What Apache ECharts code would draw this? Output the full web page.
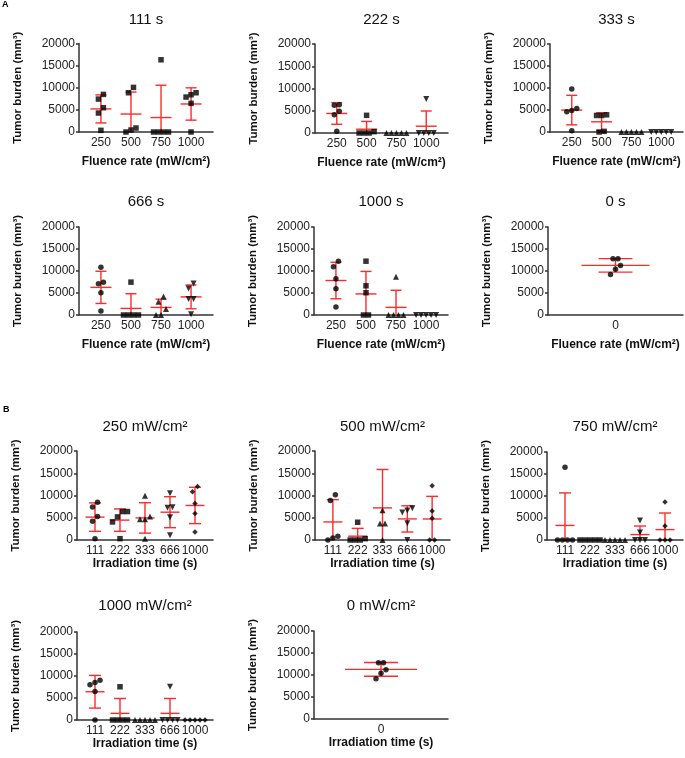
<!DOCTYPE html>
<html>
<head>
<meta charset="utf-8">
<title>Tumor burden</title>
<script src="https://cdn.jsdelivr.net/npm/echarts@6/dist/echarts.min.js"></script>
<style>
  html, body { margin: 0; padding: 0; background: #fff; }
  #chart { width: 685px; height: 758px; }
</style>
</head>
<body>
<div id="chart"></div>
<script>
// categories
const fluenceRates = ['250', '500', '750', '1000'];
const irradiationTimes = ['111', '222', '333', '666', '1000'];
const controlCat = ['0'];

// A: tumor burden (mm3) by fluence rate, one panel per irradiation time
const t111 = [[375, 4290, 5490, 7440, 8500], [10080, 8870, 900, 0, 450], [16320, 0, 0, 0, 0], [8870, 7900, 8420, 6470, 0]];
const t222 = [[6220, 6370, 4870, 4120, 375], [3970, 0, 0, 0, 300], [0, 0, 0, 0, 0], [7640, 0, 0, 0, 0]];
const t333 = [[9770, 4890, 4590, 5340, 300], [3760, 3760, 3910, 0, 150], [0, 0, 0, 0, 0], [0, 0, 0, 0, 0]];
const t666 = [[10870, 7100, 7470, 5060, 900], [7470, 0, 0, 0, 0], [4230, 3020, 1360, 0, 0], [7170, 6040, 3620, 3620, 150]];
const t1000 = [[12230, 10950, 8230, 5960, 1810], [12230, 6640, 5060, 0, 0], [8680, 0, 0, 0, 0], [0, 0, 0, 0, 0]];
const t0 = [[12760, 12760, 11250, 10420, 9210]];

// B: tumor burden (mm3) by irradiation time, one panel per fluence rate
const r250 = [[8500, 7440, 5260, 4210, 300], [6390, 6390, 5190, 4060, 300], [9930, 4660, 4660, 5260, 300], [10500, 7220, 7370, 5110, 1050], [12030, 10830, 8200, 5940, 1800]];
const r500 = [[10150, 8870, 830, 0, 450], [3990, 0, 0, 0, 300], [22050, 6690, 3680, 3680, 0], [7150, 6170, 6620, 3760, 0], [12180, 6540, 4890, 0, 0]];
const r750 = [[16540, 0, 0, 0, 0], [0, 0, 0, 0, 0], [0, 0, 0, 0, 0], [4440, 1730, 0, 0, 0], [8650, 3160, 0, 0, 0]];
const r1000 = [[9060, 8000, 8530, 6490, 0], [7550, 0, 0, 0, 0], [0, 0, 0, 0, 0], [7550, 0, 0, 0, 0], [0, 0, 0, 0, 0]];
const r0 = [[12810, 12810, 11220, 10380, 9170]];

const FONT = '"Liberation Sans", Arial, sans-serif';
const downTri = 'path://M0,0 L10,0 L5,9 Z';
const shapesA = ['circle', 'rect', 'triangle', downTri];
const shapesB = ['circle', 'rect', 'triangle', downTri, 'diamond'];

// mean and sample SD
function stats(v) {
    const n = v.length;
    const m = v.reduce((a, b) => a + b, 0) / n;
    const sd = Math.sqrt(v.reduce((a, b) => a + (b - m) * (b - m), 0) / (n - 1));
    return [m, sd];
}

// spread points that sit close together, column scatter style (pixels)
function spread(values, thr, step) {
    const idx = values.map((v, i) => i).sort((a, b) => values[a] - values[b]);
    const off = new Array(values.length).fill(0);
    let start = 0;
    for (let k = 1; k <= idx.length; k++) {
        if (k === idx.length || values[idx[k]] - values[idx[k - 1]] > thr) {
            const n = k - start;
            for (let m = 0; m < n; m++) off[idx[start + m]] = (m - (n - 1) / 2) * step;
            start = k;
        }
    }
    return off;
}

function meanSD(halfMean, halfCap) {
    return function (params, api) {
        const x = api.value(0), m = api.value(1), sd = api.value(2);
        if (m === 0 && sd === 0) return null;
        const c = api.coord([x, m]);
        const top = api.coord([x, m + sd]);
        const low = api.coord([x, Math.max(0, m - sd)]);
        const style = { stroke: '#ff2a2a', lineWidth: 1.4 };
        const seg = (x1, y1, x2, y2) => ({ type: 'line', shape: { x1, y1, x2, y2 }, style });
        const children = [
            seg(c[0] - halfMean, c[1], c[0] + halfMean, c[1]),
            seg(c[0], top[1], c[0], low[1]),
            seg(c[0] - halfCap, top[1], c[0] + halfCap, top[1])
        ];
        if (m - sd > 0) children.push(seg(c[0] - halfCap, low[1], c[0] + halfCap, low[1]));
        return { type: 'group', children };
    };
}

const option = { animation: false, grid: [], xAxis: [], yAxis: [], series: [], graphic: [] };

function addPanel(rect, title, titleY, cats, groups, shapes, xName, xGap, pad, halfMean, halfCap) {
    const g = option.grid.length;
    option.grid.push({ left: rect[0], top: rect[1], width: rect[2], height: rect[3] });
    option.xAxis.push({
        gridIndex: g, type: 'value', min: -pad, max: cats.length - 1 + pad,
        name: xName, nameLocation: 'middle', nameGap: xGap,
        nameTextStyle: { fontFamily: FONT, fontSize: 12, fontWeight: 'bold', color: '#111' },
        axisLine: { show: true, onZero: false, lineStyle: { color: '#333', width: 1.5 } },
        axisTick: { show: false }, splitLine: { show: false },
        axisLabel: {
            customValues: cats.map((c, i) => i), formatter: v => cats[Math.round(v)],
            fontFamily: FONT, fontSize: 12, color: '#222', margin: 5
        }
    });
    option.yAxis.push({
        gridIndex: g, type: 'value', min: 0, max: 20000, interval: 5000,
        name: 'Tumor burden (mm³)', nameLocation: 'middle', nameGap: 55,
        nameTextStyle: { fontFamily: FONT, fontSize: 11.5, fontWeight: 'bold', color: '#111' },
        axisLine: { show: true, onZero: false, lineStyle: { color: '#333', width: 1.5 } },
        axisTick: { show: true, length: 3, lineStyle: { color: '#333', width: 1.5 } },
        splitLine: { show: false },
        axisLabel: { formatter: v => String(v), fontFamily: FONT, fontSize: 12, color: '#222', margin: 4 }
    });
    const pxPerData = rect[3] / 20000;
    groups.forEach((vals, i) => {
        const off = spread(vals, 6 / pxPerData, 5);
        const tri = shapes[i] === 'triangle' || shapes[i] === downTri;
        option.series.push({
            type: 'scatter', xAxisIndex: g, yAxisIndex: g, z: 3,
            symbol: shapes[i], symbolSize: tri ? 6 : 5.5,
            itemStyle: { color: '#000' },
            data: vals.map((v, j) => ({ value: [i, v], symbolOffset: [off[j], 0] }))
        });
    });
    option.series.push({
        type: 'custom', xAxisIndex: g, yAxisIndex: g, z: 2,
        renderItem: meanSD(halfMean, halfCap),
        data: groups.map((vals, i) => [i].concat(stats(vals)))
    });
    option.graphic.push({
        type: 'text', x: rect[0] + rect[2] / 2, y: titleY,
        style: { text: title, align: 'center', verticalAlign: 'middle', fontFamily: FONT, fontSize: 15, fill: '#111' }
    });
}

const xA = 'Fluence rate (mW/cm²)';
const xB = 'Irradiation time (s)';
addPanel([79, 43.5, 134, 88.5], '111 s', 20, fluenceRates, t111, ['rect', 'rect', 'rect', 'rect'], xA, 24, 0.73, 10.5, 5.5);
addPanel([315, 44, 133, 89], '222 s', 20, fluenceRates, t222, shapesA, xA, 24, 0.73, 10.5, 5.5);
addPanel([550, 44, 133, 88], '333 s', 20, fluenceRates, t333, shapesA, xA, 24, 0.73, 10.5, 5.5);
addPanel([79, 227, 134, 88], '666 s', 202, fluenceRates, t666, shapesA, xA, 24, 0.73, 10.5, 5.5);
addPanel([314, 227, 134, 88], '1000 s', 202, fluenceRates, t1000, shapesA, xA, 24, 0.73, 10.5, 5.5);
addPanel([548, 227, 135, 88], '0 s', 202, controlCat, t0, ['circle'], xA, 24, 1, 34, 17);
addPanel([77, 451, 136, 89], '250 mW/cm²', 427, irradiationTimes, r250, shapesB, xB, 17, 0.72, 9.5, 6);
addPanel([315, 451, 135, 89], '500 mW/cm²', 427, irradiationTimes, r500, shapesB, xB, 17, 0.72, 9.5, 6);
addPanel([547, 452, 136, 88], '750 mW/cm²', 427, irradiationTimes, r750, shapesB, xB, 17, 0.72, 9.5, 6);
addPanel([77, 632, 136, 88], '1000 mW/cm²', 606, irradiationTimes, r1000, shapesB, xB, 17, 0.72, 9.5, 6);
addPanel([314, 631, 134, 88], '0 mW/cm²', 606, controlCat, r0, ['circle'], xB, 17, 1, 36, 17);

// panel letters
option.graphic.push(
    { type: 'text', x: 2, y: 0, style: { text: 'A', fontFamily: FONT, fontSize: 9, fontWeight: 'bold', fill: '#000' } },
    { type: 'text', x: 3, y: 405, style: { text: 'B', fontFamily: FONT, fontSize: 9, fontWeight: 'bold', fill: '#000' } }
);

const chart = echarts.init(document.getElementById('chart'), null, { renderer: 'canvas' });
chart.setOption(option);
</script>
</body>
</html>
